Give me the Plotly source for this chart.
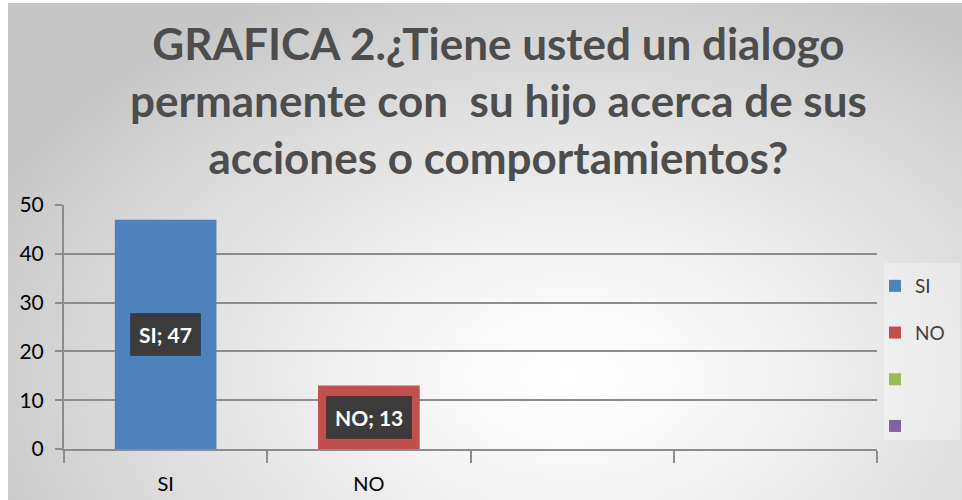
import base64
import math
import struct
import zlib

import plotly.graph_objects as go

W, H = 962, 500

categories = ["SI", "NO", " ", "  "]
legend_names = ["SI", "NO", " ", " "]
values = [47, 13, 0, 0]
colors = ["#4f81bd", "#c0504d", "#9bbb59", "#8064a2"]
label_texts = ["SI; 47", "NO; 13", None, None]
y_ticks = [0, 10, 20, 30, 40, 50]
title_lines = ["GRAFICA 2.¿Tiene usted un dialogo",
               "permanente con  su hijo acerca de sus",
               "acciones o comportamientos?"]

FONT = "Lato"


def gradient_png(w, h, cx, cy, rx, ry, lo=198, hi=255):
    rows = []
    for j in range(h):
        row = bytearray([0])
        for i in range(w):
            d = math.sqrt(((i - cx) / rx) ** 2 + ((j - cy) / ry) ** 2)
            d = min(1.0, d)
            v = int(round(hi - (hi - lo) * d ** 1.3))
            row += bytes([v, v, v])
        rows.append(bytes(row))
    raw = zlib.compress(b"".join(rows), 9)

    def chunk(tag, data):
        return struct.pack(">I", len(data)) + tag + data + struct.pack(">I", zlib.crc32(tag + data) & 0xffffffff)

    png = b"\x89PNG\r\n\x1a\n" + chunk(b"IHDR", struct.pack(">IIBBBBB", w, h, 8, 2, 0, 0, 0)) \
        + chunk(b"IDAT", raw) + chunk(b"IEND", b"")
    return "data:image/png;base64," + base64.b64encode(png).decode()


S = 4  # downscale factor of the background bitmap
bg_w, bg_h = (W - 8) // S, (H - 3) // S
bg_src = gradient_png(bg_w, bg_h, 560 / S, 370 / S, 640 / S, 430 / S)

fig = go.Figure()

for i, (cat, name, v, c) in enumerate(zip(categories, legend_names, values, colors)):
    fig.add_trace(go.Bar(
        x=[cat], y=[v], name=name, marker=dict(color=c, line=dict(width=0)),
        width=0.5, legendgroup=f"g{i}"))

annotations = []
for cat, v, t in zip(categories, values, label_texts):
    if t is None:
        continue
    annotations.append(dict(
        x=cat, y=v / 2, xref="x", yref="y", text=f"<b>{t}</b>", showarrow=False,
        font=dict(family=FONT, size=21, color="#ffffff"),
        bgcolor="#3b3b3b", bordercolor="rgba(0,0,0,0.25)", borderwidth=1, borderpad=8))

annotations.append(dict(
    x=498 / W, y=1 - 100 / H, xref="paper", yref="paper", xanchor="center", yanchor="middle",
    text="<b>" + "<br>".join(title_lines) + "</b>", showarrow=False,
    font=dict(family=FONT, size=44, color="#4d4d4d")))

fig.update_layout(
    width=W, height=H,
    margin=dict(l=0, r=0, t=0, b=0, autoexpand=False),
    paper_bgcolor="#ffffff",
    plot_bgcolor="rgba(0,0,0,0)",
    barmode="overlay",
    showlegend=True,
    images=[dict(source=bg_src, xref="paper", yref="paper", x=8 / W, y=1 - 3 / H,
                 sizex=1 - 8 / W, sizey=1 - 3 / H, xanchor="left", yanchor="top",
                 sizing="stretch", layer="below")],
    shapes=[dict(type="rect", xref="paper", yref="paper", x0=884 / W, x1=960 / W,
                 y0=1 - 440 / H, y1=1 - 263 / H, line=dict(width=0),
                 fillcolor="rgba(255,255,255,0.3)", layer="below")],
    legend=dict(x=875 / W, y=1 - 267 / H, xanchor="left", yanchor="top",
                traceorder="grouped", tracegroupgap=19,
                bgcolor="rgba(0,0,0,0)",
                font=dict(family=FONT, size=19, color="#404040"),
                itemwidth=30),
    xaxis=dict(domain=[64 / W, 877 / W], anchor="y", type="category",
               categoryorder="array", categoryarray=categories,
               range=[-0.5, 3.5],
               showline=True, linecolor="#8c8c8c", linewidth=2,
               ticks="outside", tickson="boundaries", ticklen=12, tickwidth=2, tickcolor="#8c8c8c",
               showgrid=False,
               tickfont=dict(family=FONT, size=20, color="#000000"),
               ticklabelstandoff=16),
    yaxis=dict(domain=[51 / H, 295 / H], anchor="x", range=[0, 50],
               tickvals=y_ticks,
               showline=True, linecolor="#8c8c8c", linewidth=2,
               ticks="outside", ticklen=7, tickwidth=2, tickcolor="#8c8c8c",
               showgrid=True, gridcolor="#8c8c8c", gridwidth=2,
               zeroline=False,
               tickfont=dict(family=FONT, size=21, color="#000000"),
               ticklabelstandoff=7),
    annotations=annotations,
)

fig.write_html("out.html", config={"displayModeBar": False},
               post_script="document.body.style.margin='0px';")
